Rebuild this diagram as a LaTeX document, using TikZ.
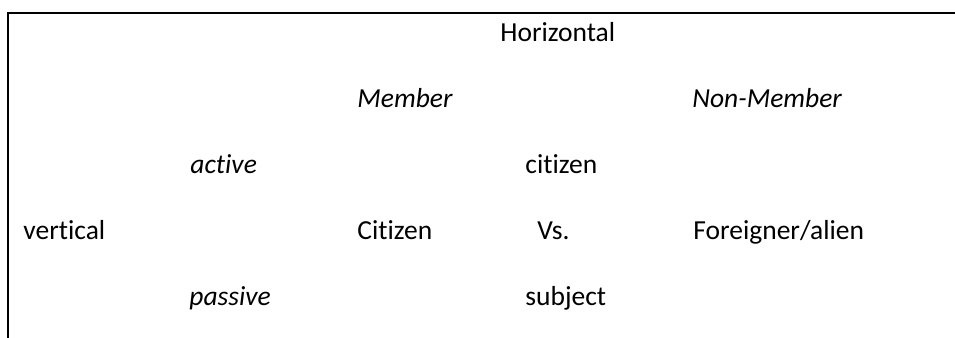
\documentclass[tikz,border=0pt]{standalone}
\usepackage{fontspec}
\setmainfont[Ligatures=NoCommon]{Carlito}

\begin{document}
\begin{tikzpicture}[x=0.5pt,y=-0.5pt,
    word/.style ={anchor=base west, inner sep = 0pt, font=\fontsize{13.75}{16}\selectfont},
    slanted/.style ={word, font=\fontsize{13.75}{16}\selectfont\itshape}]
   \useasboundingbox (0,0) rectangle (955,338);
   \draw[line width=1.3pt] (8,338) -- (8,13) -- (955,13);
   \node[word] (H) at (500,41) {Horizontal};
   \node[slanted] (M) at (357,107) {Member};
   \node[slanted] (N) at (692,107) {Non-Member};
   \node[slanted] (a) at (190,173) {active};
   \node[word] (c) at (525,173) {citizen};
   \node[word] (v) at (23,239) {vertical};
   \node[word] (C) at (357,239) {Citizen};
   \node[word] (vs) at (537,239) {Vs.};
   \node[word] (F) at (693,239) {Foreigner/alien};
   \node[slanted] (p) at (189,305) {passive};
   \node[word] (s) at (525,305) {subject};
 \end{tikzpicture}
\end{document}
